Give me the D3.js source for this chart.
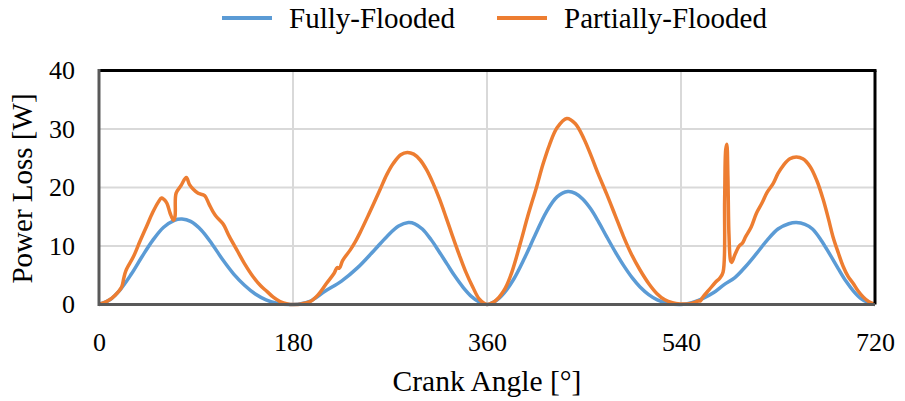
<!DOCTYPE html>
<html>
<head>
<meta charset="utf-8">
<script src="https://cdn.jsdelivr.net/npm/d3@7"></script>
<style>
  body { margin: 0; background: #fff; }
  text { font-family: "Liberation Serif", "Times New Roman", serif; fill: #000; }
</style>
</head>
<body>
<div id="chart"></div>
<script>
// values
const fullyAngles = [0, 10, 20, 30, 40, 50, 60, 70, 77, 85, 95, 105, 115, 125, 135, 145, 155, 165, 180,
  195, 210, 225, 240, 255, 267, 278, 287, 293, 300, 308, 315, 323, 330, 338, 346, 353, 360,
  368, 376, 385, 395, 405, 415, 425, 435, 442, 449, 456, 463, 471, 479, 487, 495, 502, 510, 518, 528, 540,
  550, 560, 570, 580, 590, 600, 610, 620, 630, 640, 647, 655, 662, 670, 678, 686, 693, 700, 707, 713, 720];
const fullyPower = [0, 0.8, 2.6, 5.2, 8.2, 11.0, 13.2, 14.4, 14.6, 14.2, 12.7, 10.3, 7.6, 5.2, 3.3, 1.8, 0.8, 0.2, 0,
  0.5, 2.3, 4.0, 6.3, 9.2, 11.6, 13.4, 14.0, 13.8, 12.9, 11.1, 9.2, 6.9, 4.9, 2.9, 1.3, 0.4, 0,
  0.6, 2.0, 4.4, 8.0, 12.0, 15.8, 18.4, 19.3, 19.0, 18.0, 16.4, 14.3, 11.6, 9.0, 6.6, 4.5, 3.0, 1.7, 0.8, 0.2, 0,
  0.3, 1.0, 2.0, 3.4, 4.6, 6.5, 8.7, 11.0, 12.9, 13.8, 14.0, 13.7, 12.9, 11.0, 8.6, 6.1, 4.0, 2.3, 1.0, 0.4, 0];

const partialAngles = [0, 8, 15, 21, 23, 25, 32, 38, 44, 50, 55, 58, 60, 63, 66, 69, 70.5, 71.5, 76, 81, 84, 87.5, 92, 98,
  102, 106, 109, 115, 121, 128, 135, 143, 150, 156, 162, 168, 175, 180,
  188, 196, 203, 211, 218, 221, 223, 226, 233, 238, 242, 250, 260.7, 267, 273, 280, 286, 292, 298, 304, 310, 316,
  322, 328, 334, 340, 347, 353, 360,
  366, 371, 375, 377, 383, 391, 398, 406, 412, 418, 425, 434, 442, 450, 456, 463, 471, 479, 486.5, 494, 502, 510,
  517.5, 525, 532, 539,
  546, 552, 556, 558, 560, 566, 572, 576, 579, 580.5, 581.5, 582.5, 583.5, 584.5, 586, 587, 590, 594, 597, 600,
  605, 610, 615, 620, 625.6, 630, 635, 641, 647, 653, 659.7, 666, 672, 677, 681, 686, 690.5, 695, 699.8, 704, 709, 714, 720];
const partialPower = [0, 0.6, 1.6, 3.0, 4.5, 5.8, 8.2, 10.8, 13.3, 15.8, 17.5, 18.2, 18.0, 17.3, 15.6, 14.4, 15.0, 19.0, 20.3, 21.7, 20.5, 19.7, 19.0, 18.6,
  17.2, 15.8, 15.0, 13.8, 11.6, 9.3, 7.0, 4.75, 3.2, 2.2, 1.2, 0.5, 0.1, 0,
  0.1, 0.5, 1.6, 3.6, 5.3, 6.3, 6.2, 7.5, 9.3, 10.8, 12.2, 15.3, 19.6, 22.2, 24.1, 25.6, 26.0, 25.7, 24.7, 23.0, 20.7, 18.0,
  14.9, 11.7, 8.6, 5.7, 2.9, 0.9, 0,
  0.4, 1.2, 2.2, 2.8, 5.5, 10.5, 15.2, 20.1, 24.0, 27.3, 30.2, 31.8, 30.9, 28.3, 25.7, 22.4, 18.9, 15.2, 11.7, 8.6, 5.9, 3.6,
  1.9, 0.8, 0.3, 0.1,
  0.1, 0.3, 0.6, 0.6, 1.2, 2.5, 3.8, 4.5, 5.5, 18, 26.5, 27.4, 22, 12, 7.5, 7.2, 8.5, 10.0, 10.5, 11.6,
  13.2, 15.6, 17.3, 19.2, 20.7, 22.4, 23.8, 24.9, 25.2, 24.9, 23.6, 21.2, 17.9, 14.5, 11.6, 8.8, 6.5, 4.8, 3.6, 2.4, 1.3, 0.5, 0];

const xTicks = [0, 180, 360, 540, 720];
const yTicks = [0, 10, 20, 30, 40];
const seriesNames = ["Fully-Flooded", "Partially-Flooded"];
const seriesColors = ["#5B9BD5", "#ED7D31"];

const width = 905;
const height = 401;
const margin = {top: 70.5, right: 30, bottom: 96.5, left: 99};

const svg = d3.select("#chart").append("svg")
    .attr("width", width)
    .attr("height", height);

const xScale = d3.scaleLinear().domain([0, 720]).range([margin.left, width - margin.right]);
const yScale = d3.scaleLinear().domain([0, 40]).range([height - margin.bottom, margin.top]);

// gridlines
svg.append("g")
    .selectAll("line.hgrid")
    .data(yTicks.slice(1, -1))
    .enter().append("line")
    .attr("x1", xScale(0)).attr("x2", xScale(720))
    .attr("y1", d => yScale(d)).attr("y2", d => yScale(d))
    .attr("stroke", "#d9d9d9").attr("stroke-width", 2);

svg.append("g")
    .selectAll("line.vgrid")
    .data(xTicks.slice(1, -1))
    .enter().append("line")
    .attr("x1", d => xScale(d)).attr("x2", d => xScale(d))
    .attr("y1", yScale(0)).attr("y2", yScale(40))
    .attr("stroke", "#d9d9d9").attr("stroke-width", 2);

// axes without tick marks, just labels
const xAxis = svg.append("g")
    .attr("transform", `translate(0,${yScale(0)})`)
    .call(d3.axisBottom(xScale).tickValues(xTicks).tickSize(0).tickPadding(28));
xAxis.select(".domain").remove();
xAxis.selectAll("text")
    .style("font-family", '"Liberation Serif", serif')
    .style("font-size", "26px");

const yAxis = svg.append("g")
    .attr("transform", `translate(${xScale(0)},0)`)
    .call(d3.axisLeft(yScale).tickValues(yTicks).tickSize(0).tickPadding(24));
yAxis.select(".domain").remove();
yAxis.selectAll("text")
    .style("font-family", '"Liberation Serif", serif')
    .style("font-size", "26px");

// the lines
const lineGen = d3.line()
    .x(d => xScale(d[0]))
    .y(d => yScale(d[1]))
    .curve(d3.curveCatmullRom.alpha(0.5));

const fullyData = fullyAngles.map((a, i) => [a, fullyPower[i]]);
const partialData = partialAngles.map((a, i) => [a, partialPower[i]]);

svg.append("path")
    .datum(fullyData)
    .attr("d", lineGen)
    .attr("fill", "none")
    .attr("stroke", seriesColors[0])
    .attr("stroke-width", 3.5)
    .attr("stroke-linejoin", "round");

svg.append("path")
    .datum(partialData)
    .attr("d", lineGen)
    .attr("fill", "none")
    .attr("stroke", seriesColors[1])
    .attr("stroke-width", 3.5)
    .attr("stroke-linejoin", "round");

// frame: top and right black, left and bottom dark grey
const x0 = xScale(0), x1 = xScale(720), y0 = yScale(0), y1 = yScale(40);
svg.append("line").attr("x1", x0).attr("x2", x1 + 1.5).attr("y1", y1).attr("y2", y1)
    .attr("stroke", "#000").attr("stroke-width", 3);
svg.append("line").attr("x1", x1).attr("x2", x1).attr("y1", y1).attr("y2", y0)
    .attr("stroke", "#000").attr("stroke-width", 3);
svg.append("line").attr("x1", x0).attr("x2", x0).attr("y1", y1 - 1.5).attr("y2", y0 + 1.5)
    .attr("stroke", "#595959").attr("stroke-width", 3);
svg.append("line").attr("x1", x0).attr("x2", x1).attr("y1", y0).attr("y2", y0)
    .attr("stroke", "#595959").attr("stroke-width", 3);

// axis titles
svg.append("text")
    .attr("x", (x0 + x1) / 2)
    .attr("y", 391)
    .attr("text-anchor", "middle")
    .style("font-size", "29.5px")
    .text("Crank Angle [°]");

svg.append("text")
    .attr("transform", `translate(32,${(y0 + y1) / 2 + 1}) rotate(-90)`)
    .attr("text-anchor", "middle")
    .style("font-size", "29px")
    .text("Power Loss [W]");

// legend
const legendX = [222, 497];
seriesNames.forEach((name, i) => {
    svg.append("line")
        .attr("x1", legendX[i]).attr("x2", legendX[i] + 50)
        .attr("y1", 18).attr("y2", 18)
        .attr("stroke", seriesColors[i]).attr("stroke-width", 4);
    svg.append("text")
        .attr("x", legendX[i] + 67)
        .attr("y", 28)
        .style("font-size", "29px")
        .text(name);
});
</script>
</body>
</html>
